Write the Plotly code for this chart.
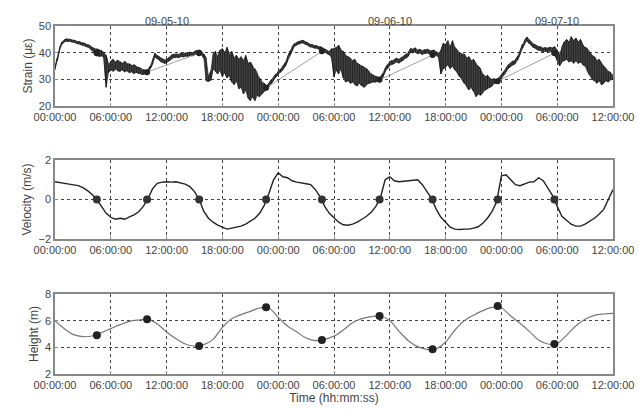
import numpy as np
import pandas as pd
import plotly.graph_objects as go

# ---------------- data ----------------
start = pd.Timestamp("2009-05-10 00:00:00")

# strain envelope (lower / upper), every 15 minutes from 00:00 on 09-05-10 (micro-strain)
strain_low = [
    33.6, 37.0, 41.0, 43.2,  44.0, 44.3, 44.3, 44.1,  43.9, 43.6, 43.3, 43.1,
    42.8, 42.5, 42.1, 41.6,  40.8, 39.2, 38.8, 38.6,  38.8, 38.0, 27.0, 32.5,
    33.5, 33.0, 33.8, 33.2,  33.0, 33.5, 32.8, 33.2,  32.5, 32.8, 32.2, 32.6,
    32.2, 32.0, 31.8, 32.0,  32.3, 34.0, 35.8, 38.5,  37.6, 37.0, 36.4, 36.0,
    36.2, 36.9, 37.7, 38.1,  38.3, 38.1, 38.5, 38.4,  38.7, 38.6, 39.0, 38.8,
    39.2, 39.5, 39.8, 39.4,  37.8, 29.5, 29.2, 29.6,  34.0, 33.0, 32.0, 33.5,
    31.0, 32.5, 30.5, 31.5,  29.0, 28.0, 29.5, 26.5,  27.0, 24.5, 26.0, 23.0,
    22.0, 23.5, 22.0, 24.0,  23.5, 24.5, 25.5, 26.0,  27.3, 28.4, 29.8, 30.8,
    31.8, 32.6, 33.6, 34.8,  36.8, 39.0, 41.0, 42.4,  42.9, 43.3, 43.6, 43.5,
    43.0, 42.5, 42.1, 41.9,  41.7, 41.5, 41.2, 40.7,  40.2, 39.6, 39.2, 38.0,
    31.0, 33.5, 32.0, 34.0,  30.5, 29.0, 29.5, 28.5,  29.0, 28.0, 27.5, 28.5,
    27.5, 27.0, 28.0, 28.5,  28.8, 29.0, 29.0, 29.2,  29.5, 30.8, 32.8, 34.1,
    35.3, 35.6, 36.1, 36.5,  36.1, 36.8, 37.3, 37.9,  38.7, 40.2, 39.9, 40.4,
    39.5, 39.9, 39.3, 39.7,  39.9, 39.5, 39.3, 39.6,  38.9, 38.3, 32.0, 34.0,
    34.5, 35.5, 34.0, 35.0,  33.5, 32.5, 31.0, 30.0,  28.5, 27.5, 26.0, 27.0,
    25.5, 23.5, 24.5, 24.0,  25.0, 26.0, 26.5, 27.0,  27.5, 28.5, 28.6, 29.0,
    30.3, 31.5, 32.8, 34.1,  34.8, 35.5, 35.9, 37.3,  39.3, 41.8, 43.3, 44.5,
    43.3, 42.5, 41.8, 41.3,  40.9, 40.7, 40.3, 40.5,  40.3, 40.6, 39.6, 39.2,
    37.0, 35.0, 36.5, 37.0,  37.5, 36.5, 37.0, 36.0,  37.0, 36.0, 36.5, 35.5,
    35.0, 33.0, 31.5, 30.0,  29.5, 28.5, 29.5, 28.0,  28.5, 29.5, 29.0, 29.8,
    30.0,
]
strain_high = [
    34.6, 38.0, 42.0, 44.0,  44.8, 45.2, 45.1, 44.9,  44.7, 44.4, 44.2, 44.0,
    43.7, 43.4, 43.0, 42.7,  42.0, 41.5, 41.4, 41.0,  40.8, 40.0, 39.0, 35.5,
    36.8, 37.5, 36.5, 37.2,  36.5, 36.0, 36.8, 35.8,  35.8, 35.2, 35.5, 34.8,
    34.5, 34.0, 33.6, 33.4,  33.6, 35.0, 37.2, 39.8,  38.9, 38.3, 37.7, 37.3,
    37.4, 38.2, 39.0, 39.4,  39.5, 39.3, 39.8, 39.6,  39.9, 39.8, 40.2, 40.0,
    40.5, 40.8, 41.0, 40.6,  39.5, 38.0, 31.0, 33.0,  39.5, 40.5, 38.5, 41.0,
    41.5, 40.0, 42.0, 39.0,  40.5, 38.0, 39.0, 37.5,  38.5, 37.0, 39.0, 36.0,
    36.5, 35.0, 34.0, 32.5,  30.5, 29.0, 28.5, 27.6,  28.6, 29.8, 31.0, 32.0,
    33.0, 33.8, 34.8, 36.2,  38.4, 40.6, 42.2, 43.4,  43.9, 44.3, 44.6, 44.5,
    44.0, 43.5, 43.1, 42.9,  42.7, 42.5, 42.3, 41.9,  41.4, 40.8, 40.4, 41.5,
    41.5, 42.0, 42.8, 41.0,  40.5, 39.0, 38.5, 38.0,  37.0, 37.5, 36.0, 35.5,
    35.0, 34.5, 34.0, 33.0,  32.0, 31.5, 31.0, 30.8,  31.0, 32.2, 34.2, 35.5,
    36.7, 37.0, 37.5, 37.9,  37.5, 38.2, 38.7, 39.3,  40.1, 41.6, 41.3, 41.8,
    40.9, 41.3, 40.7, 41.1,  41.3, 40.9, 40.7, 41.0,  40.3, 39.7, 41.0, 43.5,
    43.0, 44.5, 42.0, 44.5,  42.0, 41.0, 40.0, 39.5,  39.5, 38.0, 38.5, 37.0,
    37.5, 36.0, 35.0, 34.0,  32.0, 31.0, 31.5, 30.5,  30.0, 30.2, 29.8, 30.6,
    31.7, 32.9, 34.2, 35.5,  36.2, 36.9, 37.3, 38.7,  40.7, 43.2, 44.7, 45.9,
    44.7, 43.9, 43.2, 42.7,  42.3, 42.1, 41.7, 41.9,  41.7, 42.0, 41.8, 42.2,
    41.0, 39.0, 42.0, 44.0,  45.0, 44.0, 46.0, 44.5,  45.5, 44.0, 45.0, 43.0,
    42.0, 41.5, 40.0, 39.0,  38.5, 37.0, 37.5, 36.0,  35.0, 34.0, 33.0, 32.5,
    31.5,
]

# current velocity, every 30 minutes (m/s)
velocity_values = [
    0.90, 0.85, 0.80, 0.78, 0.74, 0.70, 0.60, 0.45, 0.25, 0.00,
    -0.35, -0.70, -0.90, -1.00, -0.95, -1.00, -0.88, -0.78, -0.62, -0.35,
    0.05, 0.55, 0.82, 0.88, 0.90, 0.88, 0.90, 0.85, 0.78, 0.65,
    0.40, 0.00, -0.60, -0.95, -1.15, -1.30, -1.40, -1.50, -1.45, -1.40,
    -1.35, -1.25, -1.10, -0.95, -0.70, -0.30, 0.30, 1.00, 1.35, 1.15,
    1.10, 0.95, 0.88, 0.85, 0.80, 0.75, 0.50, 0.15, -0.35, -0.70,
    -0.95, -1.15, -1.28, -1.30, -1.25, -1.15, -1.00, -0.85, -0.65, -0.35,
    0.10, 1.00, 1.15, 0.95, 0.90, 0.92, 0.95, 0.98, 1.00, 0.75,
    0.40, 0.05, -0.50, -0.90, -1.15, -1.40, -1.50, -1.52, -1.50, -1.50,
    -1.45, -1.38, -1.20, -0.95, -0.60, -0.10, 1.20, 1.25, 1.00, 0.75,
    0.70, 0.80, 0.88, 0.90, 1.10, 0.95, 0.60, 0.20, -0.35, -0.85,
    -1.05, -1.25, -1.35, -1.35, -1.25, -1.10, -0.95, -0.75, -0.50, 0.00,
    0.50,
]

# water height, every hour (m)
height_values = [
    6.00, 5.40, 4.95, 4.80, 4.85, 5.10, 5.40, 5.70, 5.95, 6.05,
    6.10, 5.75, 5.15, 4.65, 4.25, 4.10, 4.20, 4.60, 5.50, 6.15,
    6.45, 6.70, 6.95, 6.95, 6.25, 5.60, 5.15, 4.70, 4.50, 4.60,
    4.85, 5.30, 5.85, 6.15, 6.30, 6.35, 6.00, 5.20, 4.50, 4.05,
    3.85, 3.90, 4.40, 5.30, 6.00, 6.40, 6.75, 7.00, 6.95, 6.35,
    5.80, 5.20, 4.55, 4.25, 4.30, 4.90, 5.60, 6.10, 6.40, 6.50,
    6.55,
]

# high / low water instants (hours after start) and values at them
event_hours = [4.5, 9.9, 15.5, 22.7, 28.7, 34.9, 40.6, 47.6, 53.7]
event_strain = [39.8, 32.7, 39.8, 26.8, 40.5, 29.8, 39.1, 29.3, 39.8]
event_velocity = [0, 0, 0, 0, 0, 0, 0, 0, 0]
event_height = [4.9, 6.1, 4.1, 7.0, 4.55, 6.35, 3.85, 7.1, 4.25]
ebb_pairs = [(1, 2), (3, 4), (5, 6), (7, 8)]

day_labels = ["09-05-10", "09-06-10", "09-07-10"]
day_label_hours = [12, 36, 54]

# ---------------- build ----------------
def to_time(hours):
    return [start + pd.Timedelta(hours=float(h)) for h in hours]

strain_t = list(pd.date_range(start, periods=len(strain_low), freq="15min"))
vel_t = pd.date_range(start, periods=len(velocity_values), freq="30min")
h_t = pd.date_range(start, periods=len(height_values), freq="60min")
ev_t = to_time(event_hours)

# vertical strokes between envelope values (noise texture)
zz_x, zz_y = [], []
for i, t in enumerate(strain_t):
    pair = (strain_low[i], strain_high[i]) if i % 2 == 0 else (strain_high[i], strain_low[i])
    zz_x += [t, t]
    zz_y += list(pair)

ebb_x, ebb_y = [], []
for a, b in ebb_pairs:
    ebb_x += [ev_t[a], ev_t[b], None]
    ebb_y += [event_strain[a], event_strain[b], None]

fig = go.Figure()
fig.add_trace(go.Scatter(x=strain_t, y=strain_high, mode="lines",
                         line=dict(color="#222222", width=0.6), xaxis="x", yaxis="y"))
fig.add_trace(go.Scatter(x=strain_t, y=strain_low, mode="lines", fill="tonexty",
                         fillcolor="#454545",
                         line=dict(color="#222222", width=0.6), xaxis="x", yaxis="y"))
fig.add_trace(go.Scatter(x=zz_x, y=zz_y, mode="lines",
                         line=dict(color="#111111", width=0.7), xaxis="x", yaxis="y"))
fig.add_trace(go.Scatter(x=ebb_x, y=ebb_y, mode="lines",
                         line=dict(color="#888888", width=0.8), xaxis="x", yaxis="y"))
fig.add_trace(go.Scatter(x=ev_t, y=event_strain, mode="markers",
                         marker=dict(color="#222222", size=6), xaxis="x", yaxis="y"))

fig.add_trace(go.Scatter(x=vel_t, y=velocity_values, mode="lines",
                         line=dict(color="#222222", width=1.4), xaxis="x2", yaxis="y2"))
fig.add_trace(go.Scatter(x=ev_t, y=event_velocity, mode="markers",
                         marker=dict(color="#333333", size=8), xaxis="x2", yaxis="y2"))

fig.add_trace(go.Scatter(x=h_t, y=height_values, mode="lines", line_shape="spline",
                         line=dict(color="#777777", width=1.2), xaxis="x3", yaxis="y3"))
fig.add_trace(go.Scatter(x=ev_t, y=event_height, mode="markers",
                         marker=dict(color="#222222", size=8), xaxis="x3", yaxis="y3"))

xr = [start, start + pd.Timedelta(hours=60)]
font_tick = dict(family="Liberation Sans, Arial", size=11, color="#444444")
xcommon = dict(type="date", range=xr, dtick=6 * 3600 * 1000, tick0=start,
               tickformat="%H:%M:%S", showgrid=True, gridcolor="#444444",
               griddash="dot", gridwidth=1, showline=True, mirror=True,
               linecolor="#888888", linewidth=1.5, ticks="inside", ticklen=3,
               tickcolor="#888888", tickfont=font_tick, zeroline=False,
               automargin=False)
ycommon = dict(showgrid=True, gridcolor="#444444", griddash="dot", gridwidth=1,
               showline=True, mirror=True, linecolor="#888888", linewidth=1.5,
               ticks="inside", ticklen=3, tickcolor="#888888", tickfont=font_tick,
               zeroline=False, automargin=False)
xdom = [55 / 639, 613 / 639]
ftitle = dict(family="Liberation Sans, Arial", size=12, color="#444444")

fig.update_layout(
    width=639, height=412, margin=dict(l=0, r=0, t=0, b=0, autoexpand=False),
    paper_bgcolor="white", plot_bgcolor="white", showlegend=False,
    xaxis=dict(domain=xdom, anchor="y", **xcommon),
    xaxis2=dict(domain=xdom, anchor="y2", **xcommon),
    xaxis3=dict(domain=xdom, anchor="y3",
                title=dict(text="Time (hh:mm:ss)", font=ftitle, standoff=2), **xcommon),
    yaxis=dict(domain=[1 - 106 / 412, 1 - 26 / 412], anchor="x", range=[20, 50],
               dtick=10, title=dict(text="Strain (με)", font=ftitle, standoff=4), **ycommon),
    yaxis2=dict(domain=[1 - 239 / 412, 1 - 160 / 412], anchor="x2", range=[-2, 2],
                dtick=2, title=dict(text="Velocity (m/s)", font=ftitle, standoff=4), **ycommon),
    yaxis3=dict(domain=[1 - 374 / 412, 1 - 294 / 412], anchor="x3", range=[2, 8],
                dtick=2, title=dict(text="Height (m)", font=ftitle, standoff=4), **ycommon),
)

for lab, hh in zip(day_labels, day_label_hours):
    fig.add_annotation(x=start + pd.Timedelta(hours=hh), y=1 - 13 / 412, xref="x",
                       yref="paper", text=lab, showarrow=False,
                       font=dict(family="Liberation Sans, Arial", size=11, color="#444444"))

fig.write_html("out.html", config={"displayModeBar": False},
               post_script="document.body.style.margin='0px';document.body.style.overflow='hidden';")
